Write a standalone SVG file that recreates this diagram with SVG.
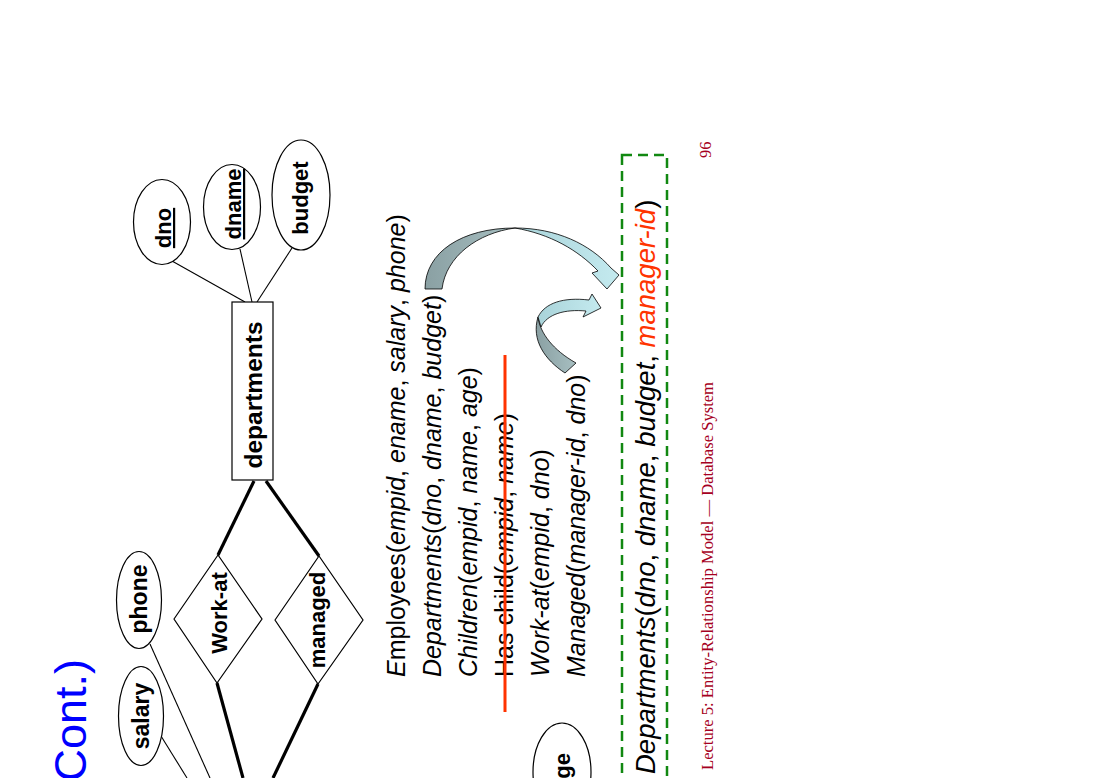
<svg xmlns="http://www.w3.org/2000/svg" width="1100" height="778" viewBox="0 0 1100 778">
  <style>
    .ent { fill: #ffffff; stroke: #000000; stroke-width: 1.2; }
    .attr { fill: #ffffff; stroke: #000000; stroke-width: 1.2; }
    .rel { fill: #ffffff; stroke: #000000; stroke-width: 1.2; }
    .thin { stroke: #000000; stroke-width: 1.1; fill: none; }
    .thick { stroke: #000000; stroke-width: 3.2; fill: none; }
    .lbl { font-family: "Liberation Sans", Arial, sans-serif; font-weight: bold; font-size: 22px; fill: #000000; text-anchor: middle; }
    .lbl.big { font-size: 24.5px; }
    .lbl.mid { font-size: 23px; }
    .schema { font-family: "Liberation Sans", Arial, sans-serif; font-size: 25px; fill: #000000; }
    .it { font-style: italic; }
    .foot { font-family: "Liberation Serif", "Times New Roman", serif; font-size: 16.6px; fill: #a50021; }
    .arrowline { stroke: #000000; stroke-width: 0.8; stroke-linejoin: round; }
  </style>
  <defs>
    <linearGradient id="backFace" x1="0" y1="0" x2="1" y2="0">
      <stop offset="0" stop-color="#8aa0a3"/>
      <stop offset="1" stop-color="#a7bfc1"/>
    </linearGradient>
    <linearGradient id="frontFace" x1="0" y1="0" x2="1" y2="0">
      <stop offset="0" stop-color="#a9d3d9"/>
      <stop offset="1" stop-color="#c4eaef"/>
    </linearGradient>
  </defs>

  <rect x="0" y="0" width="1100" height="778" fill="#ffffff"/>

  <!-- title fragment -->
  <text transform="translate(86,659) rotate(-90)" font-family="Liberation Sans, Arial, sans-serif" font-size="45" fill="#0000ff" text-anchor="end">Cont.)</text>

  <!-- connectors -->
  <g id="connectors">
    <line class="thin" x1="172" y1="261" x2="245" y2="302"/>
    <line class="thin" x1="240" y1="249" x2="252" y2="302"/>
    <line class="thin" x1="292" y1="248" x2="257" y2="302"/>
    <line class="thin" x1="150" y1="644" x2="210" y2="778"/>
    <line class="thin" x1="161" y1="736" x2="187" y2="778"/>
    <line class="thick" x1="254" y1="481" x2="218" y2="555"/>
    <line class="thick" x1="266" y1="481" x2="319" y2="556"/>
    <line class="thick" x1="217" y1="683" x2="243" y2="778"/>
    <line class="thick" x1="318" y1="684" x2="273" y2="778"/>
  </g>

  <!-- entity: departments -->
  <g id="departments">
    <rect class="ent" x="232" y="302" width="41" height="178"/>
    <text class="lbl big" transform="translate(262,395) rotate(-90)">departments</text>
  </g>

  <!-- department attributes -->
  <g id="attr-dno">
    <ellipse class="attr" cx="162" cy="222" rx="28.5" ry="42.5"/>
    <text class="lbl" text-decoration="underline" transform="translate(171,228) rotate(-90)">dno</text>
  </g>
  <g id="attr-dname">
    <ellipse class="attr" cx="232" cy="207" rx="28.5" ry="42.5"/>
    <text class="lbl" text-decoration="underline" transform="translate(241,204) rotate(-90)">dname</text>
  </g>
  <g id="attr-budget">
    <ellipse class="attr" cx="301" cy="195" rx="29" ry="55"/>
    <text class="lbl" transform="translate(308,198) rotate(-90)">budget</text>
  </g>

  <!-- relationships -->
  <g id="rel-work-at">
    <polygon class="rel" points="174,619 218,555 262,619 217,683"/>
    <text class="lbl" transform="translate(227,613) rotate(-90)">Work-at</text>
  </g>
  <g id="rel-managed">
    <polygon class="rel" points="275,620 319,556 363,620 318,684"/>
    <text class="lbl" transform="translate(325,620) rotate(-90)">managed</text>
  </g>

  <!-- employee attributes -->
  <g id="attr-phone">
    <ellipse class="attr" cx="139" cy="600" rx="22.5" ry="48.5"/>
    <text class="lbl mid" transform="translate(147,599) rotate(-90)">phone</text>
  </g>
  <g id="attr-salary">
    <ellipse class="attr" cx="141" cy="716" rx="22.5" ry="49.5"/>
    <text class="lbl mid" transform="translate(149,716) rotate(-90)">salary</text>
  </g>
  <g id="attr-age">
    <ellipse class="attr" cx="562" cy="772" rx="29" ry="49"/>
    <text class="lbl" transform="translate(570,772) rotate(-90)">age</text>
  </g>

  <!-- relational schema -->
  <g id="schema-list">
    <text class="schema" transform="translate(405,677) rotate(-90)"><tspan class="it">E</tspan>mployees(<tspan class="it">empid</tspan>, <tspan class="it">ename</tspan>, <tspan class="it">salary</tspan>, <tspan class="it">phone</tspan>)</text>
    <text class="schema" transform="translate(441,677) rotate(-90)"><tspan class="it">Departments</tspan>(<tspan class="it">dno</tspan>, <tspan class="it">dname</tspan>, <tspan class="it">budget</tspan>)</text>
    <text class="schema" transform="translate(477,677) rotate(-90)"><tspan class="it">Children</tspan>(<tspan class="it">empid</tspan>, <tspan class="it">name</tspan>, <tspan class="it">age</tspan>)</text>
    <text class="schema" transform="translate(513,677) rotate(-90)">Has child(<tspan class="it">empid</tspan>, <tspan class="it">name</tspan>)</text>
    <text class="schema" transform="translate(549,677) rotate(-90)"><tspan class="it">Work-at</tspan>(<tspan class="it">empid</tspan>, <tspan class="it">dno</tspan>)</text>
    <text class="schema" transform="translate(585,677) rotate(-90)"><tspan class="it">Managed</tspan>(<tspan class="it">manager-id</tspan>, <tspan class="it">dno</tspan>)</text>
  </g>

  <!-- strike-through on Has child -->
  <line x1="505" y1="355" x2="505" y2="712" stroke="#ff3300" stroke-width="3"/>

  <!-- curved arrows -->
  <g id="arrow-large">
    <path class="arrowline" fill="url(#backFace)" d="M425,289 C425,252 462,228 515,228 C478,233 446,256 442,289 Z"/>
    <path class="arrowline" fill="url(#frontFace)" d="M515,228 C556,228 590,244 611,268 L619,275 L607,289 L592,273 L598,271 C578,250 550,234 515,228 Z"/>
  </g>
  <g id="arrow-small">
    <path class="arrowline" fill="url(#backFace)" d="M565,373 C545,360 531,340 538,317 C540,333 553,350 576,363 Z"/>
    <path class="arrowline" fill="url(#frontFace)" d="M538,317 C545,303 563,297 589,300 L592,294 L601,308 L583,317 L586,311 C565,309 547,314 541,327 Z"/>
  </g>

  <!-- merged relation -->
  <g id="merged-relation">
    <rect x="622" y="155" width="45" height="640" fill="none" stroke="#118811" stroke-width="2.5" stroke-dasharray="10 6"/>
    <text font-family="Liberation Sans, Arial, sans-serif" font-size="27.5" fill="#000000" transform="translate(655,774) rotate(-90)"><tspan font-style="italic">Departments</tspan>(<tspan font-style="italic">dno</tspan>, <tspan font-style="italic">dname</tspan>, <tspan font-style="italic">budget</tspan>, <tspan font-style="italic" fill="#ff3300">manager-id</tspan>)</text>
  </g>

  <!-- footer -->
  <text class="foot" transform="translate(713,770) rotate(-90)">Lecture 5: Entity-Relationship Model — Database System</text>
  <text class="foot" transform="translate(711,158) rotate(-90)">96</text>
</svg>
